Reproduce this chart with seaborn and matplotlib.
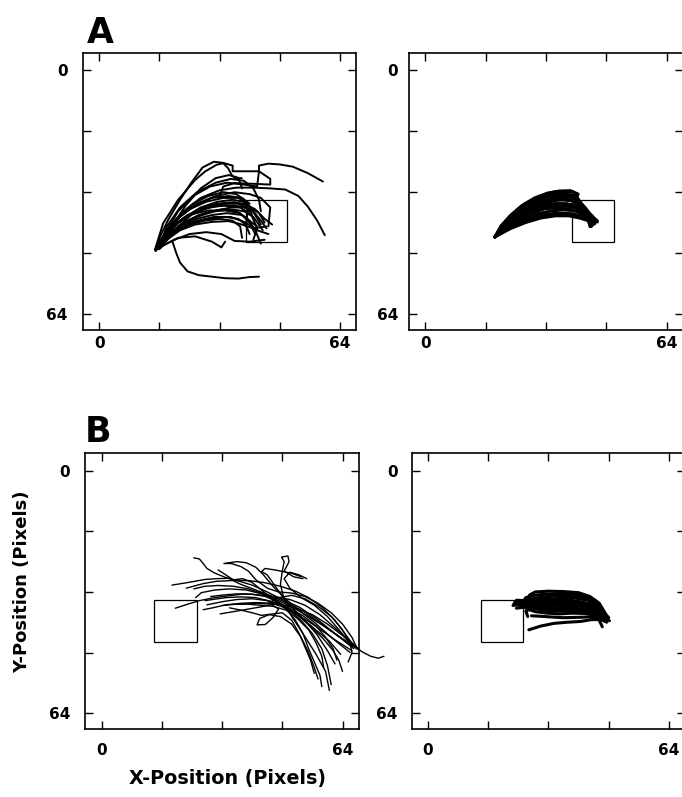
import matplotlib
matplotlib.use("Agg")
import matplotlib.pyplot as plt
import pandas as pd
import seaborn as sns
from matplotlib.patches import Rectangle

# Each trial is a list of (x, y) positions in pixels.
a_left_trials = [
    [(15.5, 46.5), (17.5, 43.5), (20, 40.5), (23.5, 38), (27.5, 36.5), (32, 35.5), (36, 35.5), (39, 36), (40.5, 37.5)],
    [(16, 46), (18, 43), (21, 40), (25, 37.5), (29, 36), (33, 35), (37, 35), (40, 36.5), (41, 39)],
    [(16.5, 46), (18.5, 43.5), (22, 41), (26, 39), (30, 38), (34, 37.5), (38, 38), (40, 39.5), (42, 41)],
    [(15, 47), (17, 44), (19.5, 41), (23, 38.5), (27, 36), (31.5, 34.5), (35.5, 34), (38.5, 34.5), (40, 36)],
    [(16, 46.5), (18, 42.5), (20.5, 39), (24, 36.5), (28.5, 34.5), (33, 33.5), (37, 33.5), (39.5, 35), (41.5, 38), (43, 40.5)],
    [(17, 45.5), (19, 43), (22.5, 40), (26.5, 38), (31, 37), (35, 36.5), (38.5, 37), (41, 38.5), (43.5, 42)],
    [(16.5, 45), (18.5, 41.5), (21.5, 38.5), (25.5, 35.5), (30, 33.5), (34.5, 33), (38, 33.5), (40, 35)],
    [(15.5, 46), (17.5, 44), (21, 42), (25, 40), (29, 39), (33.5, 38.5), (37, 39), (39, 40.5), (40, 43)],
    [(16, 47), (18.5, 44), (22, 41.5), (26, 39.5), (30.5, 38.5), (35, 38.5), (39, 40), (42, 42), (45, 43)],
    [(17, 46), (19, 42), (21.5, 38), (25, 35), (29, 33), (33, 32), (36.5, 32.5), (38.5, 34), (39.5, 37), (39, 41)],
    [(16, 46), (18, 43.5), (21.5, 41), (26, 38.5), (30.5, 37), (35, 36), (38.5, 36), (41, 37), (43, 39.5), (44.5, 41.5)],
    [(15, 47.5), (17, 45), (20, 42.5), (24, 40.5), (28, 39.5), (32, 39), (35.5, 39.5), (37.5, 41), (38, 44)],
    [(16.5, 46.5), (18.5, 44), (21, 41), (24.5, 38), (29, 36), (33.5, 35.5), (37.5, 36), (40.5, 38), (42, 41.5), (41, 44.5)],
    [(17, 45.5), (20, 42), (23.5, 39.5), (28, 37.5), (32.5, 36.5), (36.5, 37), (39.5, 39), (41.5, 42), (43, 45.5)],
    [(16, 46.5), (18.5, 43), (21.5, 39.5), (25.5, 37), (30, 35.5), (34.5, 34.8), (38.5, 35), (41.5, 36.5), (44, 39), (46, 40.5)],
    [(15.5, 47), (18, 44.5), (21.5, 42), (25.5, 40.5), (30, 39.8), (34.5, 39.6), (38, 40.5), (41, 41.5), (44.5, 41)],
    [(16.5, 45.5), (19, 42), (22.5, 38.8), (27, 36.2), (31.5, 35), (36, 34.6), (39.5, 35.5), (42.5, 37.5), (44, 40)],
    [(15.5, 46.5), (17.8, 43.2), (20.8, 40.2), (24.5, 37.8), (29, 36.8), (33.5, 36.8), (37.5, 37.5), (40, 40), (41.5, 43)],
    [(15, 47), (16.5, 43), (18.5, 39), (21.5, 34), (24.5, 29.5), (27.5, 25.5), (30.5, 24), (33, 24.3), (35.5, 25),
     (35.5, 26.5), (39, 26.5), (42.5, 26.5), (45.5, 28.5), (45.5, 30), (41, 29.8), (36, 29.6), (33, 30.5), (32, 33)],
    [(16, 46), (18, 42), (21, 37), (25, 33), (29.5, 30.5), (34, 29.5), (38.5, 30), (42, 30.5), (42.5, 26.5), (42.5, 25),
     (45, 24.5), (48, 24.7), (51.5, 25.3), (55.5, 27), (59.5, 29.2)],
    [(16.5, 45.5), (19, 41), (22.5, 37), (27, 33.5), (32, 31.5), (36.5, 30.8), (41, 30.8), (45.5, 31), (49.5, 31.3),
     (53, 33), (55.5, 35.8), (58, 39.5), (60, 43.3)],
    [(19.5, 45), (20.5, 48), (21.5, 50.5), (23.5, 52.8), (26.5, 53.8), (30, 54.2), (33.5, 54.6), (37, 54.7), (40, 54.3), (42.5, 54.2)],
    [(17, 46), (21, 44), (25.5, 43.6), (30, 45), (32.5, 46.5), (33.5, 45)],
    [(17, 46), (20, 44.5), (24, 43), (28.5, 42.5), (32.5, 43), (36, 44.8), (40, 45), (44, 44.5)],
    [(14.8, 47.2), (17, 40.2), (21, 34), (25.5, 28.8), (28.1, 26.6), (31.2, 24.8), (33, 24.4), (34.3, 25.7), (35.2, 27.4),
     (36.1, 28.3), (37.9, 28.3)],
    [(16, 46), (18, 41), (21.5, 36), (26, 32), (31, 29.5), (35, 28.5), (38.5, 29), (41, 31), (42.5, 34), (43, 37)],
    [(15.5, 46), (18, 42), (21.5, 38), (26, 35), (31, 33), (36, 32), (40, 32.5), (43, 33.5), (45.5, 36), (45, 41)],
    [(17, 46), (18.5, 43.5), (20, 40), (23, 35.5), (27, 31), (31, 28.3), (34.5, 27.5), (37, 28.2), (38, 31)],
]

a_right_trials = [
    [(18.5, 43.8), (20, 41), (22.5, 38.2), (25.5, 35.6), (29, 33.5), (32.5, 32.2), (35.5, 31.7), (38.5, 31.6), (40.5, 32.5),
     (39.8, 34), (41, 35.8), (43, 38), (45, 39.6)],
    [(18.5, 43.8), (20.5, 41), (23, 38.5), (26.5, 36), (30, 34), (33.5, 32.8), (37, 32.4), (39.5, 33), (40.5, 34.2),
     (42, 36.5), (44, 38.6), (45.5, 39.5)],
    [(18.5, 43.8), (21, 41), (24, 38.5), (27.5, 36.5), (31, 35), (35, 34), (38.5, 34), (41, 35.2), (43, 37.2), (45, 39.3)],
    [(18.6, 43.6), (21.5, 41.2), (25, 39), (28.5, 37.3), (32, 36.2), (35.5, 35.6), (39, 35.8), (41.5, 36.8), (43.5, 38.2), (45.3, 39.5)],
    [(18.5, 43.7), (22, 41.3), (26, 39.5), (30, 38.2), (34, 37.6), (37.5, 37.5), (40.5, 38), (43, 38.8), (44.6, 39.7)],
    [(18.5, 43.7), (22.5, 41.6), (26.5, 40), (30.5, 38.8), (34.5, 38.2), (38, 38.2), (41, 38.8), (43.2, 39.5), (43.7, 41)],
    [(18.5, 43.7), (21, 40.8), (24, 38), (27.5, 35.8), (31, 34.3), (34.5, 33.3), (38, 33.1), (40.5, 34), (42.5, 36.2), (44.5, 38.8)],
    [(18.4, 43.8), (20.8, 41), (23.5, 38.7), (27, 36.8), (30.5, 35.6), (34, 35), (37.5, 35), (40.5, 36), (43, 37.8), (45.2, 39.4)],
    [(18.5, 43.7), (21.2, 41.1), (24.5, 38.9), (28, 37.2), (31.5, 36.3), (35, 36.1), (38.5, 36.5), (41.5, 37.5), (44, 38.6), (45.5, 39.6)],
    [(18.5, 43.8), (20.3, 41.5), (22.8, 39), (26, 36.8), (29.5, 35.1), (33, 34.2), (36.5, 34), (39, 34.3), (40.5, 35.4),
     (42, 37.3), (44.8, 39.5)],
    [(18.6, 43.6), (20.2, 40.8), (23, 37.8), (26.5, 35), (30.5, 33), (34, 32), (37, 31.8), (39.3, 32), (40.2, 33.3),
     (41.5, 35.5), (43.5, 37.8), (45.2, 39.6)],
    [(18.5, 43.7), (21.8, 41.4), (25.5, 39.3), (29.5, 37.7), (33.5, 36.9), (37, 36.6), (40, 37), (42.5, 38), (44.5, 39.4), (44, 41)],
    [(18.5, 43.7), (20.6, 40.9), (23.3, 38.3), (26.8, 36.2), (30.2, 34.8), (33.8, 34), (37.3, 33.8), (39.8, 34.5), (41.5, 36),
     (43.3, 38), (45.3, 39.7)],
    [(18.5, 43.7), (21.5, 41), (24.8, 38.6), (28.3, 36.8), (31.8, 35.7), (35.3, 35.2), (38.8, 35.3), (41.8, 36.4), (44.2, 38.2), (45.6, 39.8)],
    [(18.5, 43.7), (20.1, 41.2), (22.3, 38.8), (25.3, 36.3), (28.8, 34.2), (32.3, 33), (35.8, 32.6), (38.8, 32.8), (40.5, 33.8),
     (41.8, 36), (43.8, 38.2), (45.5, 39.5)],
    [(18.5, 43.7), (22.2, 41.5), (26.2, 39.7), (30.2, 38.5), (34.2, 37.9), (37.8, 37.8), (40.8, 38.4), (43, 39.2), (45, 40.2), (43.7, 41)],
]

b_left_trials = [
    [(67.5, 46.5), (64, 43.5), (60, 40.5), (56, 38), (52, 36.5), (48.5, 35.5), (45, 34.5), (41, 33.5), (37, 33.3), (33, 33.5),
     (29.5, 34), (27.5, 34.3)],
    [(67.8, 47), (63.5, 44), (59, 41), (55, 38.5), (51, 36.2), (47, 34.3), (43, 32.5), (39, 31.2), (35, 30.5), (31, 30.3),
     (27.5, 30.5), (24.5, 31.2)],
    [(67, 46.2), (65, 43.5), (62, 39.5), (58.5, 36), (55, 33.5), (51.5, 31.8), (47.5, 30.5), (43, 29.5), (39, 29), (34.5, 29),
     (30.5, 29.2), (27, 29.8), (22.5, 31)],
    [(66.5, 47.5), (62.5, 45), (58.5, 42.2), (55, 39.8), (51, 37.5), (47.5, 35.5), (44, 34.3), (40, 33.8), (36, 34), (32.5, 34.5), (28, 35.4)],
    [(67.5, 46.8), (63, 43.8), (58, 40.2), (53.5, 37), (49, 34.8), (45, 33), (41, 31.5), (37, 30), (33.7, 28.4), (30.5, 28.5),
     (27.5, 28.7), (23, 29.5), (18.7, 30.2)],
    [(67, 47), (62, 43), (57, 39), (52.5, 36), (48, 34), (44, 32), (40, 30.2), (36, 29), (33, 28.2), (30, 27), (28, 25.8),
     (27, 24.5), (26, 23.3), (24.5, 23)],
    [(66, 48), (61, 44), (56.5, 40), (52, 36.5), (48.5, 33.5), (45.5, 30.5), (43, 27.5), (41, 25.5), (38.5, 24.3), (36, 24), (33, 24.4)],
    [(60.5, 58), (59.5, 53), (57, 48.5), (53.5, 43), (50.5, 38.5), (48.5, 34), (47.5, 30), (48, 26.5), (48.5, 24), (47.8, 22.8),
     (49.5, 22.5), (49.8, 24), (48.5, 26.5), (51, 28), (53.5, 28.5)],
    [(57.5, 55), (56.5, 52), (55, 48), (53, 44), (50.5, 40.5), (47.5, 38.5), (44.5, 38), (42, 39), (41.3, 40.7), (43.5, 40.6),
     (45.5, 38.8), (47, 36.5), (45, 35.2), (41, 35), (37, 35.3)],
    [(61, 56.5), (60, 51.5), (58.5, 47), (56, 43), (53, 39.5), (49.5, 36.5), (45.5, 35), (41, 34.8), (37, 35), (33, 35.4),
     (29.5, 36.2), (27, 36.7)],
    [(62.5, 50), (61.5, 47), (59.5, 44), (57, 41), (53.5, 38.3), (50, 36.3), (46, 35.2), (42, 36), (38, 36.7), (34.5, 37.3), (31.5, 37.8)],
    [(75, 49), (73.5, 49.5), (71.5, 49), (69, 47.7), (66, 45), (62, 41.5), (58, 38), (54, 35.5), (50, 34), (46, 33.3), (42, 32.8),
     (38, 32.5), (34, 33), (30, 33.5), (26, 34.3), (23, 35.2), (19.6, 36.3)],
    [(68, 47.2), (66.5, 44), (64, 40.5), (61, 37.5), (57.5, 35), (54, 33.2), (50.5, 32.3), (47, 32), (44, 31), (41, 28.8),
     (39, 26.5), (37, 25.3), (34.5, 24.5), (32.5, 24.5)],
    [(59, 52), (58.5, 49), (57, 45.5), (55, 42), (52, 39), (49, 36.8), (45.5, 35.8), (42, 35.5), (38.5, 35.2), (35, 35.3), (32, 35.6)],
    [(64, 53), (63, 50), (61.5, 47.5), (59, 44.5), (56, 41.5), (52.5, 38.5), (49, 36), (46, 34), (42.5, 32.5), (38.5, 31.5),
     (34, 31.2), (30, 31.5), (26.5, 32.2), (25, 33.5)],
    [(58.5, 57), (58, 54), (56.5, 50.5), (55, 47), (53.5, 43), (51.5, 39.5), (49, 36.5), (46.5, 34.5), (43.5, 33.2), (40, 32.6),
     (36, 32.5), (32.5, 32.8), (29, 33.2)],
    [(65.5, 50.5), (66.5, 48), (66, 45.5), (64, 42), (61, 38.5), (57.5, 35.8), (54, 33.8), (50.5, 32.9), (47, 33.5), (44.5, 34.8)],
    [(62, 51), (60, 47.5), (57, 43), (53, 38.5), (49.5, 35), (46.5, 31), (44, 27.5), (42.5, 26.6), (43.4, 25.8), (46.1, 26.2),
     (50.5, 27.1), (53.1, 28)],
    [(63.5, 48.5), (60.5, 45), (57.5, 42.5), (54.5, 40), (51.5, 37.5), (48.5, 36), (45.5, 34), (42.5, 31.5), (40, 29.5),
     (37.5, 28.5), (35, 28.8), (33, 27.5), (31, 26.2)],
    [(56.5, 53.5), (55.5, 50), (54, 46.5), (52.5, 43), (50.5, 39.5), (48, 37.5), (45.5, 37.8), (42.5, 38.2), (40, 37.5),
     (37, 36.8), (34, 36.2)],
    [(66.5, 46.5), (63.5, 42.5), (60, 38.5), (56.5, 35.5), (53, 33.5), (50, 31), (48.5, 28.5), (50, 26.8), (52.5, 27.5), (54.5, 28.5)],
]

b_right_trials = [
    [(47, 37.5), (45.5, 35), (43, 33.2), (40, 32.2), (36, 31.9), (32, 31.8), (28.5, 32), (27, 32.8), (26.5, 34.2), (25.5, 35)],
    [(47.2, 38.5), (46, 36), (43.5, 34.2), (40, 33.3), (36, 33), (32, 33.2), (28.5, 33.6), (26, 34.2), (24, 34.8)],
    [(47, 39.4), (45.5, 37.6), (43, 36.2), (39.5, 35.6), (35.5, 35.4), (31.5, 35.5), (28, 35.6), (25.5, 35.6), (23, 35.4)],
    [(46.3, 41.2), (45.5, 39.5), (43.5, 38), (40.5, 37.2), (37, 37), (33.5, 37.1), (30, 36.8), (27.5, 36), (26, 35.2), (23, 35.3)],
    [(47.2, 38.5), (45, 36.5), (42, 35), (38.5, 34.4), (35, 34.3), (31.5, 34.4), (28, 34.8), (25, 35.1), (22.8, 35.2)],
    [(46.8, 39), (44.5, 37.8), (41.5, 37), (38, 36.6), (34, 36.4), (30.5, 36.3), (27.5, 36.4), (26, 37), (26.5, 38.5)],
    [(45, 39.3), (43.5, 39.3), (40.5, 39.8), (37, 40), (33.5, 40.3), (30, 41), (26.8, 42)],
    [(47.5, 40), (46, 39.3), (43, 38.6), (40, 38.7), (36, 38.8), (32.5, 38.6), (29.5, 38.4), (27.5, 38.3)],
    [(47, 38), (45, 35.8), (42.5, 34.2), (39, 33.6), (35.5, 33.7), (32, 34), (28.5, 34.4), (25.5, 34.6), (23, 34.8)],
    [(47.3, 38.8), (44.5, 36.8), (41, 35.8), (37.5, 35.3), (34, 35.1), (30.5, 35.2), (27, 35.3), (24, 35.2), (22.6, 35.6)],
    [(46.5, 37), (44.5, 34.3), (41.5, 33), (38, 32.6), (34.5, 32.5), (31, 32.6), (28, 32.9), (26, 33.5), (25.3, 34.5)],
    [(47, 39.5), (45, 37), (42, 35.5), (38.5, 34.9), (35, 34.8), (31, 35), (27.5, 35.1), (24.5, 34.5)],
    [(46.8, 38.2), (44, 36.2), (40.5, 35.4), (37, 35.9), (33.5, 36.2), (30, 36), (26.5, 35.9), (23.5, 36.3)],
    [(47.1, 39.8), (45, 38.4), (42, 37.7), (38.5, 37.6), (35, 37.8), (31.5, 37.6), (28.5, 37.2), (26.5, 36.6)],
    [(48, 38.8), (46.3, 36.8), (43.8, 35.4), (40.5, 34.6), (37, 34.1), (33.5, 33.9), (30, 34), (26.8, 34.3), (23.5, 34.2)],
    [(48.2, 39.6), (46, 38.5), (43, 37), (39.5, 36.3), (36, 36.1), (32.5, 36.3), (29, 36.3), (25.5, 36.1)],
]

# target box as [x, y, width, height]
box_a = [39, 34, 11, 11]
box_b = [14, 34, 11.3, 11.2]

tick_values = [0, 16, 32, 48, 64]
tick_labels = ["0", "", "", "", "64"]


def to_frame(trials):
    rows = []
    for i, path in enumerate(trials):
        for step, (x, y) in enumerate(path):
            rows.append({"trial": i, "step": step, "x": x, "y": y})
    return pd.DataFrame(rows)


def draw_panel(ax, trials, box, lw, xpad, ypad):
    df = to_frame(trials)
    sns.lineplot(data=df, x="x", y="y", units="trial", estimator=None, sort=False,
                 color="black", lw=lw, legend=False, ax=ax, clip_on=False)
    ax.add_patch(Rectangle((box[0], box[1]), box[2], box[3], fill=False, ec="black", lw=0.9))
    ax.set_xlim(-4.3, 68.3)
    ax.set_ylim(68.2, -4.6)
    ax.set_xticks(tick_values)
    ax.set_xticklabels(tick_labels)
    ax.set_yticks(tick_values)
    ax.set_yticklabels(tick_labels)
    ax.tick_params(direction="in", length=5.5, width=1, bottom=True, left=True, top=True, right=True,
                   labelsize=11, colors="black")
    ax.tick_params(axis="x", pad=xpad)
    ax.tick_params(axis="y", pad=ypad)
    ax.set_xlabel("")
    ax.set_ylabel("")
    for spine in ax.spines.values():
        spine.set_linewidth(1.2)
        spine.set_color("black")


sns.set_style("white")
plt.rcParams["font.family"] = ["DejaVu Sans"]
plt.rcParams["font.weight"] = "bold"
plt.rcParams["text.color"] = "black"

fig = plt.figure(figsize=(6.82, 7.97), dpi=100)

ax1 = fig.add_axes([0.1217, 0.586, 0.4003, 0.3476])
ax2 = fig.add_axes([0.5997, 0.586, 0.4018, 0.3476])
ax3 = fig.add_axes([0.1251, 0.0853, 0.4009, 0.3459])
ax4 = fig.add_axes([0.6037, 0.0853, 0.4009, 0.3459])

draw_panel(ax1, a_left_trials, box_a, 1.4, 4, 11)
draw_panel(ax2, a_right_trials, box_a, 2.2, 4, 8)
draw_panel(ax3, b_left_trials, box_b, 1.0, 10, 11)
draw_panel(ax4, b_right_trials, box_b, 2.2, 10, 10)

fig.text(0.128, 0.946, "A", fontsize=25, fontweight="bold", color="black")
fig.text(0.124, 0.445, "B", fontsize=25, fontweight="bold", color="black")
fig.text(0.334, 0.0226, "X-Position (Pixels)", fontsize=13.8, fontweight="bold", color="black",
         ha="center", va="center")
fig.text(0.032, 0.27, "Y-Position (Pixels)", fontsize=13, fontweight="bold", color="black",
         ha="center", va="center", rotation=90)

fig.savefig("out.png", dpi=100, facecolor="white")
